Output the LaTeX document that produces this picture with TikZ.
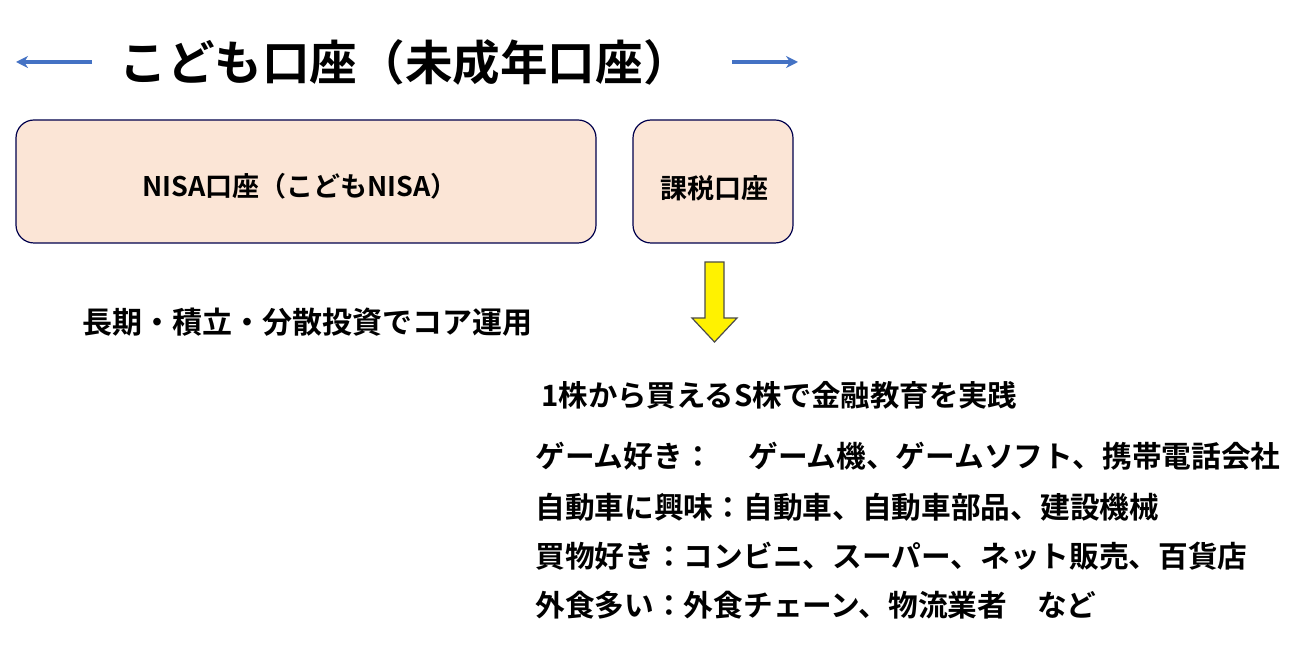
\documentclass[tikz,border=0pt]{standalone}
\usepackage{fontspec}
\usetikzlibrary{arrows.meta}
\newfontfamily\jp{Noto Sans CJK JP Bold}
\begin{document}
\begin{tikzpicture}[x=0.5pt,y=-0.5pt,
  box/.style={draw=blue!30!black,fill=peach,rounded corners=9pt,line width=0.6pt},
  t/.style={font=\jp\fontsize{14.85}{16}\selectfont,anchor=west,inner sep=0},
  barr/.style={draw=arrowblue,line width=1.6pt,-{Stealth[length=6pt,width=6pt]}}]
\definecolor{peach}{HTML}{FBE5D6}
\definecolor{arrowblue}{HTML}{4472C4}
\useasboundingbox (0,0) rectangle (1312,657);
\node[font=\jp\fontsize{23.8}{26}\selectfont,inner sep=0] (title) at (405,62) {こども口座（未成年口座）};
\coordinate (la) at (16,62); \coordinate (ra) at (798,62);
\draw[barr] (92,62) -- (la);
\draw[barr] (732,62) -- (ra);
\draw[box] (16,120) rectangle (596,243);
\node[font=\jp\fontsize{13.5}{15}\selectfont] (nisa) at (300,186) {NISA口座（こどもNISA）};
\draw[box] (633,120) rectangle (793,243);
\node[font=\jp\fontsize{13.5}{15}\selectfont] (kazei) at (714,188) {課税口座};
\draw[fill=yellow,draw=black!70,line width=0.6pt] (705,262) -- (724,262) -- (724,318) -- (737,318) -- (714.5,342) -- (692,318) -- (705,318) -- cycle;
\node[t,font=\jp\fontsize{15}{17}\selectfont] (core) at (82,322) {長期・積立・分散投資でコア運用};
\node[t,font=\jp\fontsize{14.7}{17}\selectfont] (s) at (541,395) {1株から買えるS株で金融教育を実践};
\node[t] (l1) at (535,456) {ゲーム好き：\hspace{1.2em}ゲーム機、ゲームソフト、携帯電話会社};
\node[t] (l2) at (535,507) {自動車に興味：自動車、自動車部品、建設機械};
\node[t] (l3) at (535,556) {買物好き：コンビニ、スーパー、ネット販売、百貨店};
\node[t] (l4) at (535,605) {外食多い：外食チェーン、物流業者　など};
\end{tikzpicture}
\end{document}
